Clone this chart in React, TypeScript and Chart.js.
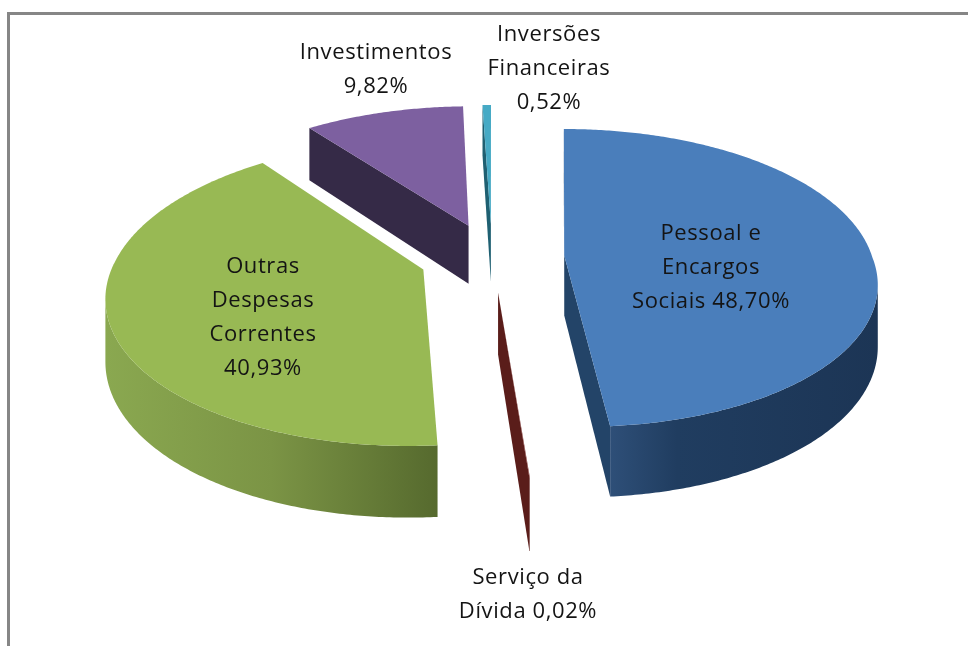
import React, { useEffect, useRef } from "react";
import { Chart, registerables } from "chart.js";

Chart.register(...registerables);

const categories = ["Pessoal e Encargos Sociais", "Serviço da Dívida", "Outras Despesas Correntes", "Investimentos", "Inversões Financeiras"];
const shares = [48.70, 0.02, 40.93, 9.82, 0.52];
const topColors = ["#4a7ebb", "#7a2a26", "#98b954", "#7d60a0", "#46aac5"];
const wallColors = ["#234468", "#5a1d1a", "#5a6b30", "#352a47", "#1f6072"];
const sideStops = [
  ["#1c3555", "#203d60", "#2e4f78"],
  ["#5a1d1a", "#5a1d1a", "#5a1d1a"],
  ["#8aa850", "#7b9445", "#566a2e"],
  ["#352a47", "#352a47", "#352a47"],
  ["#1f6072", "#1f6072", "#1f6072"],
];
const labelLines = [
  ["Pessoal e", "Encargos", "Sociais 48,70%"],
  ["Serviço da", "Dívida 0,02%"],
  ["Outras", "Despesas", "Correntes", "40,93%"],
  ["Investimentos", "9,82%"],
  ["Inversões", "Financeiras", "0,52%"],
];
const labelAnchors = [
  [711, 234],
  [528, 578],
  [263, 267],
  [376, 53],
  [549, 35],
];
const northLean = [9, 0, 0, 0, 0];
const southLean = [4, 0, -3, 0, 0];

const RX = 308;
const RY = 146;
const TILT = 0.15;
const DEPTH = 60;
const LINE = 34;

function project(cx: number, cy: number, nx: number, nv: number, down: number, i: number): [number, number] {
  const s = 1 / (1 - TILT * nv);
  const lean = northLean[i] * Math.max(0, -nv) + southLean[i] * Math.max(0, nv);
  return [cx + nx * RX * s + lean, cy + nv * RY * s + down * DEPTH * s];
}

function fillPoly(ctx: CanvasRenderingContext2D, pts: [number, number][], fill: string | CanvasGradient) {
  ctx.beginPath();
  pts.forEach((p, i) => (i ? ctx.lineTo(p[0], p[1]) : ctx.moveTo(p[0], p[1])));
  ctx.closePath();
  ctx.fillStyle = fill;
  ctx.fill();
}

function area(pts: [number, number][]) {
  let a = 0;
  pts.forEach((p, i) => {
    const q = pts[(i + 1) % pts.length];
    a += p[0] * q[1] - q[0] * p[1];
  });
  return a / 2;
}

const perspectivePie = {
  id: "perspectivePie",
  beforeDatasetsDraw(chart: any) {
    const ctx: CanvasRenderingContext2D = chart.ctx;
    const arcs: any[] = chart.getDatasetMeta(0).data;
    const order = arcs
      .map((arc, i) => ({ i, mid: (arc.startAngle + arc.endAngle) / 2 }))
      .sort((a, b) => Math.sin(a.mid) - Math.sin(b.mid));
    order.forEach(({ i, mid }) => {
      const arc = arcs[i];
      const off = arc.options.offset / arc.outerRadius;
      const ox = Math.cos(mid) * off;
      const ov = Math.sin(mid) * off;
      const rim: [number, number][] = [];
      const rimBase: [number, number][] = [];
      const steps = Math.max(2, Math.ceil((arc.endAngle - arc.startAngle) / 0.01));
      for (let k = 0; k <= steps; k++) {
        const a = arc.startAngle + ((arc.endAngle - arc.startAngle) * k) / steps;
        rim.push(project(arc.x, arc.y, ox + Math.cos(a), ov + Math.sin(a), 0, i));
        rimBase.push(project(arc.x, arc.y, ox + Math.cos(a), ov + Math.sin(a), 1, i));
      }
      const apex = project(arc.x, arc.y, ox, ov, 0, i);
      const apexBase = project(arc.x, arc.y, ox, ov, 1, i);

      // outer curved side: only the part that faces the viewer
      const top: [number, number][] = [];
      const base: [number, number][] = [];
      for (let k = 0; k < steps; k++) {
        const quad: [number, number][] = [rim[k], rim[k + 1], rimBase[k + 1], rimBase[k]];
        if (area(quad) < 0) {
          if (!top.length) {
            top.push(rim[k]);
            base.push(rimBase[k]);
          }
          top.push(rim[k + 1]);
          base.push(rimBase[k + 1]);
        }
      }
      if (top.length) {
        const xs = base.map((p) => p[0]);
        const grad = ctx.createLinearGradient(Math.max(...xs), 0, Math.min(...xs), 0);
        const stops = sideStops[i];
        if (i === 2) {
          grad.addColorStop(0, stops[2]);
          grad.addColorStop(0.5, stops[1]);
          grad.addColorStop(1, stops[0]);
        } else {
          grad.addColorStop(0, stops[0]);
          grad.addColorStop(0.75, stops[1]);
          grad.addColorStop(1, stops[2]);
        }
        fillPoly(ctx, [...top, ...base.reverse()], grad);
      }
      // radial walls
      const walls: [number, number][][] = [
        [apex, rim[0], rimBase[0], apexBase],
        [rim[steps], apex, apexBase, rimBase[steps]],
      ];
      walls.forEach((w) => {
        if (area(w) < 0) fillPoly(ctx, w, wallColors[i]);
      });
      // top face
      fillPoly(ctx, [apex, ...rim], arc.options.backgroundColor);
    });
    return false;
  },
  afterDraw(chart: any) {
    const ctx: CanvasRenderingContext2D = chart.ctx;
    ctx.save();
    ctx.font = '400 22px "Open Sans"';
    (ctx as any).letterSpacing = "0.6px";
    ctx.textAlign = "center";
    ctx.textBaseline = "middle";
    ctx.fillStyle = "#141414";
    labelLines.forEach((lines, i) => {
      lines.forEach((line, k) => {
        ctx.fillText(line, labelAnchors[i][0], labelAnchors[i][1] + k * LINE);
      });
    });
    ctx.restore();
  },
};

export default function App() {
  const ref = useRef<HTMLCanvasElement>(null);
  useEffect(() => {
    const chart = new Chart(ref.current!, {
      type: "pie",
      data: {
        labels: categories,
        datasets: [{ data: shares, backgroundColor: topColors, borderWidth: 0, offset: 54 }],
      },
      options: {
        animation: false,
        responsive: false,
        layout: { padding: { left: 16, bottom: 132 } },
        plugins: { legend: { display: false }, tooltip: { enabled: false } },
      },
      plugins: [perspectivePie],
    } as any);
    return () => chart.destroy();
  }, []);
  return (
    <div style={{ position: "absolute", left: 0, top: 0, width: 968, height: 646, background: "#fff", overflow: "hidden" }}>
      <div style={{ position: "absolute", left: 7, top: 12, width: 961, height: 634, borderTop: "3px solid #868686", borderLeft: "3px solid #868686", boxSizing: "border-box" }} />
      <canvas ref={ref} width={968} height={646} style={{ position: "absolute", left: 0, top: 0 }} />
    </div>
  );
}
